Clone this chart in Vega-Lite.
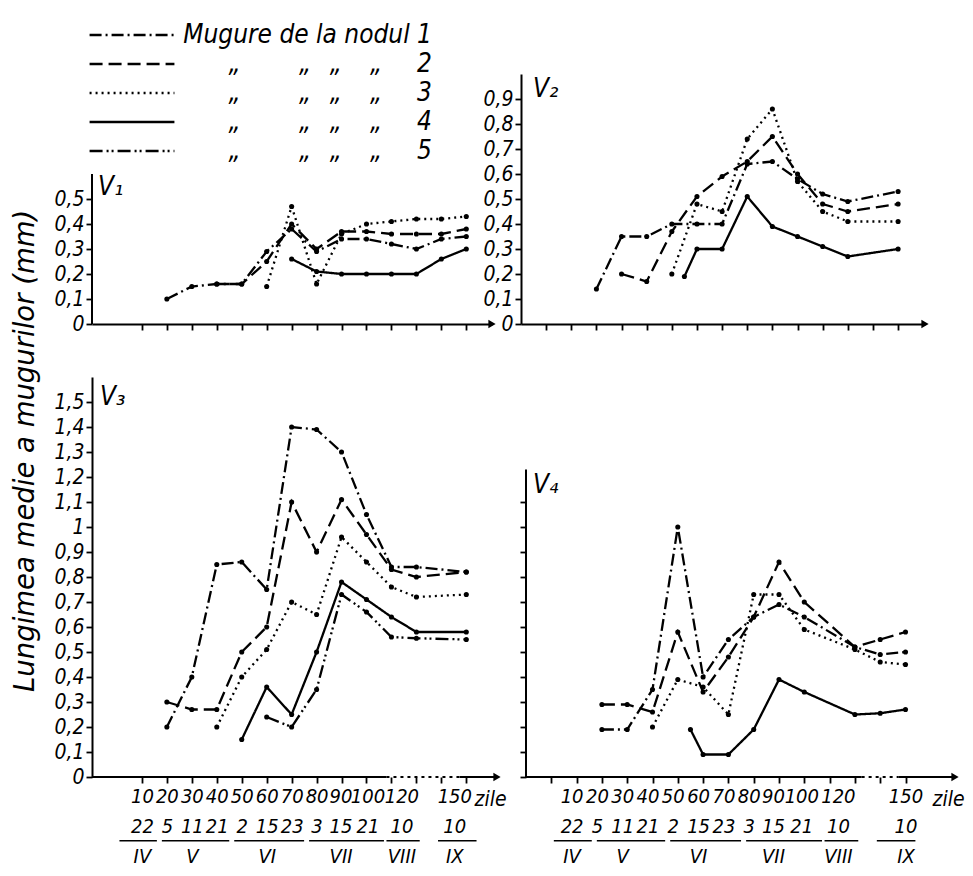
{
  "$schema": "https://vega.github.io/schema/vega-lite/v6.json",
  "background": "white",
  "padding": {"left": 12, "top": 22, "right": 0, "bottom": 0},
  "title": {"text": "Lungimea medie a mugurilor (mm)\u2002\u2060", "orient": "left", "anchor": "middle", "font": "DejaVu Sans", "fontSize": 27.5, "fontStyle": "italic", "fontWeight": "normal", "offset": 14, "color": "black"},
  "datasets": {
    "v1": [
      {"node": "1", "day": 20, "mm": 0.10}, {"node": "1", "day": 30, "mm": 0.15}, {"node": "1", "day": 40, "mm": 0.16}, {"node": "1", "day": 50, "mm": 0.16}, {"node": "1", "day": 60, "mm": 0.29}, {"node": "1", "day": 70, "mm": 0.38}, {"node": "1", "day": 80, "mm": 0.29}, {"node": "1", "day": 90, "mm": 0.34}, {"node": "1", "day": 100, "mm": 0.34}, {"node": "1", "day": 110, "mm": 0.32}, {"node": "1", "day": 120, "mm": 0.30}, {"node": "1", "day": 135, "mm": 0.34}, {"node": "1", "day": 150, "mm": 0.35},
      {"node": "2", "day": 40, "mm": 0.16}, {"node": "2", "day": 50, "mm": 0.16}, {"node": "2", "day": 60, "mm": 0.25}, {"node": "2", "day": 70, "mm": 0.40}, {"node": "2", "day": 80, "mm": 0.30}, {"node": "2", "day": 90, "mm": 0.37}, {"node": "2", "day": 100, "mm": 0.37}, {"node": "2", "day": 110, "mm": 0.36}, {"node": "2", "day": 120, "mm": 0.36}, {"node": "2", "day": 135, "mm": 0.36}, {"node": "2", "day": 150, "mm": 0.38},
      {"node": "3", "day": 60, "mm": 0.15}, {"node": "3", "day": 70, "mm": 0.47}, {"node": "3", "day": 80, "mm": 0.16}, {"node": "3", "day": 90, "mm": 0.36}, {"node": "3", "day": 100, "mm": 0.40}, {"node": "3", "day": 110, "mm": 0.41}, {"node": "3", "day": 120, "mm": 0.42}, {"node": "3", "day": 135, "mm": 0.42}, {"node": "3", "day": 150, "mm": 0.43},
      {"node": "4", "day": 70, "mm": 0.26}, {"node": "4", "day": 80, "mm": 0.21}, {"node": "4", "day": 90, "mm": 0.20}, {"node": "4", "day": 100, "mm": 0.20}, {"node": "4", "day": 110, "mm": 0.20}, {"node": "4", "day": 120, "mm": 0.20}, {"node": "4", "day": 135, "mm": 0.26}, {"node": "4", "day": 150, "mm": 0.30}
    ],
    "v2": [
      {"node": "1", "day": 20, "mm": 0.14}, {"node": "1", "day": 30, "mm": 0.35}, {"node": "1", "day": 40, "mm": 0.35}, {"node": "1", "day": 50, "mm": 0.40}, {"node": "1", "day": 60, "mm": 0.40}, {"node": "1", "day": 70, "mm": 0.40}, {"node": "1", "day": 80, "mm": 0.64}, {"node": "1", "day": 90, "mm": 0.65}, {"node": "1", "day": 100, "mm": 0.58}, {"node": "1", "day": 110, "mm": 0.52}, {"node": "1", "day": 120, "mm": 0.49}, {"node": "1", "day": 150, "mm": 0.53},
      {"node": "2", "day": 30, "mm": 0.20}, {"node": "2", "day": 40, "mm": 0.17}, {"node": "2", "day": 50, "mm": 0.37}, {"node": "2", "day": 60, "mm": 0.51}, {"node": "2", "day": 70, "mm": 0.59}, {"node": "2", "day": 80, "mm": 0.65}, {"node": "2", "day": 90, "mm": 0.75}, {"node": "2", "day": 100, "mm": 0.60}, {"node": "2", "day": 110, "mm": 0.48}, {"node": "2", "day": 120, "mm": 0.45}, {"node": "2", "day": 150, "mm": 0.48},
      {"node": "3", "day": 50, "mm": 0.20}, {"node": "3", "day": 60, "mm": 0.48}, {"node": "3", "day": 70, "mm": 0.45}, {"node": "3", "day": 80, "mm": 0.74}, {"node": "3", "day": 90, "mm": 0.86}, {"node": "3", "day": 100, "mm": 0.57}, {"node": "3", "day": 110, "mm": 0.45}, {"node": "3", "day": 120, "mm": 0.41}, {"node": "3", "day": 150, "mm": 0.41},
      {"node": "4", "day": 55, "mm": 0.19}, {"node": "4", "day": 60, "mm": 0.30}, {"node": "4", "day": 70, "mm": 0.30}, {"node": "4", "day": 80, "mm": 0.51}, {"node": "4", "day": 90, "mm": 0.39}, {"node": "4", "day": 100, "mm": 0.35}, {"node": "4", "day": 110, "mm": 0.31}, {"node": "4", "day": 120, "mm": 0.27}, {"node": "4", "day": 150, "mm": 0.30}
    ],
    "v3": [
      {"node": "1", "day": 20, "mm": 0.20}, {"node": "1", "day": 30, "mm": 0.40}, {"node": "1", "day": 40, "mm": 0.85}, {"node": "1", "day": 50, "mm": 0.86}, {"node": "1", "day": 60, "mm": 0.75}, {"node": "1", "day": 70, "mm": 1.40}, {"node": "1", "day": 80, "mm": 1.39}, {"node": "1", "day": 90, "mm": 1.30}, {"node": "1", "day": 100, "mm": 1.05}, {"node": "1", "day": 110, "mm": 0.84}, {"node": "1", "day": 120, "mm": 0.84}, {"node": "1", "day": 150, "mm": 0.82},
      {"node": "2", "day": 20, "mm": 0.30}, {"node": "2", "day": 30, "mm": 0.27}, {"node": "2", "day": 40, "mm": 0.27}, {"node": "2", "day": 50, "mm": 0.50}, {"node": "2", "day": 60, "mm": 0.60}, {"node": "2", "day": 70, "mm": 1.10}, {"node": "2", "day": 80, "mm": 0.90}, {"node": "2", "day": 90, "mm": 1.11}, {"node": "2", "day": 100, "mm": 0.97}, {"node": "2", "day": 110, "mm": 0.83}, {"node": "2", "day": 120, "mm": 0.80}, {"node": "2", "day": 150, "mm": 0.82},
      {"node": "3", "day": 40, "mm": 0.20}, {"node": "3", "day": 50, "mm": 0.40}, {"node": "3", "day": 60, "mm": 0.51}, {"node": "3", "day": 70, "mm": 0.70}, {"node": "3", "day": 80, "mm": 0.65}, {"node": "3", "day": 90, "mm": 0.96}, {"node": "3", "day": 100, "mm": 0.86}, {"node": "3", "day": 110, "mm": 0.76}, {"node": "3", "day": 120, "mm": 0.72}, {"node": "3", "day": 150, "mm": 0.73},
      {"node": "4", "day": 50, "mm": 0.15}, {"node": "4", "day": 60, "mm": 0.36}, {"node": "4", "day": 70, "mm": 0.25}, {"node": "4", "day": 80, "mm": 0.50}, {"node": "4", "day": 90, "mm": 0.78}, {"node": "4", "day": 100, "mm": 0.71}, {"node": "4", "day": 110, "mm": 0.64}, {"node": "4", "day": 120, "mm": 0.58}, {"node": "4", "day": 150, "mm": 0.58},
      {"node": "5", "day": 60, "mm": 0.24}, {"node": "5", "day": 70, "mm": 0.20}, {"node": "5", "day": 80, "mm": 0.35}, {"node": "5", "day": 90, "mm": 0.73}, {"node": "5", "day": 100, "mm": 0.66}, {"node": "5", "day": 110, "mm": 0.56}, {"node": "5", "day": 120, "mm": 0.555}, {"node": "5", "day": 150, "mm": 0.55}
    ],
    "v4": [
      {"node": "1", "day": 20, "mm": 0.19}, {"node": "1", "day": 30, "mm": 0.19}, {"node": "1", "day": 40, "mm": 0.35}, {"node": "1", "day": 50, "mm": 1.00}, {"node": "1", "day": 60, "mm": 0.40}, {"node": "1", "day": 70, "mm": 0.55}, {"node": "1", "day": 80, "mm": 0.64}, {"node": "1", "day": 90, "mm": 0.69}, {"node": "1", "day": 100, "mm": 0.64}, {"node": "1", "day": 120, "mm": 0.52}, {"node": "1", "day": 135, "mm": 0.49}, {"node": "1", "day": 150, "mm": 0.50},
      {"node": "2", "day": 20, "mm": 0.29}, {"node": "2", "day": 30, "mm": 0.29}, {"node": "2", "day": 40, "mm": 0.26}, {"node": "2", "day": 50, "mm": 0.58}, {"node": "2", "day": 60, "mm": 0.34}, {"node": "2", "day": 70, "mm": 0.48}, {"node": "2", "day": 80, "mm": 0.64}, {"node": "2", "day": 90, "mm": 0.86}, {"node": "2", "day": 100, "mm": 0.70}, {"node": "2", "day": 120, "mm": 0.52}, {"node": "2", "day": 135, "mm": 0.55}, {"node": "2", "day": 150, "mm": 0.58},
      {"node": "3", "day": 40, "mm": 0.20}, {"node": "3", "day": 50, "mm": 0.39}, {"node": "3", "day": 60, "mm": 0.36}, {"node": "3", "day": 70, "mm": 0.25}, {"node": "3", "day": 80, "mm": 0.73}, {"node": "3", "day": 90, "mm": 0.73}, {"node": "3", "day": 100, "mm": 0.59}, {"node": "3", "day": 120, "mm": 0.51}, {"node": "3", "day": 135, "mm": 0.46}, {"node": "3", "day": 150, "mm": 0.45},
      {"node": "4", "day": 55, "mm": 0.19}, {"node": "4", "day": 60, "mm": 0.09}, {"node": "4", "day": 70, "mm": 0.09}, {"node": "4", "day": 80, "mm": 0.19}, {"node": "4", "day": 90, "mm": 0.39}, {"node": "4", "day": 100, "mm": 0.34}, {"node": "4", "day": 120, "mm": 0.25}, {"node": "4", "day": 135, "mm": 0.255}, {"node": "4", "day": 150, "mm": 0.27}
    ],
    "months": [
      {"month": "IV", "from": 1, "to": 16},
      {"month": "V", "from": 18, "to": 45},
      {"month": "VI", "from": 47, "to": 75},
      {"month": "VII", "from": 77, "to": 107},
      {"month": "VIII", "from": 108, "to": 122},
      {"month": "IX", "from": 133, "to": 156}
    ],
    "one": [{}]
  },
  "spacing": 43,
  "vconcat": [
    {
      "bounds": "flush",
      "spacing": 29,
      "hconcat": [
        {
          "width": 400, "height": 250,
          "layer": [
            {
              "data": {"name": "v1"},
              "mark": {"type": "line", "color": "black", "strokeWidth": 2.3},
              "encoding": {
                "x": {"field": "day", "type": "quantitative", "scale": {"type": "linear", "domain": [-10, 120, 150, 165], "range": [0, 324.4, 374.3, 400], "nice": false, "zero": false},
                      "axis": {"values": [10, 20, 30, 40, 50, 60, 70, 80, 90, 100, 110, 120, 135, 150], "tickCount": 100, "labels": false, "title": null, "labelOverlap": false}},
                "y": {"field": "mm", "type": "quantitative", "scale": {"domain": [0, 1.0], "nice": false},
                      "axis": {"values": [0, 0.1, 0.2, 0.3, 0.4, 0.5], "tickCount": 100, "domain": false, "title": null, "labelOverlap": false, "labelExpr": "replace(format(datum.value, '~g'), '.', ',')"}},
                "strokeDash": {"field": "node", "type": "nominal",
                  "scale": {"domain": ["1", "2", "3", "4", "5"], "range": [[12, 4, 2, 4], [13, 6], [2, 4], [1, 0], [13, 4, 2, 3, 2, 4]]},
                  "legend": {"orient": "none", "legendX": 27, "legendY": -52, "title": null, "padding": 0,
                    "symbolType": "M-4,0H4", "symbolSize": 450, "symbolStrokeWidth": 2.3, "symbolStrokeColor": "black", "symbolFillColor": "transparent",
                    "labelFont": "DejaVu Sans Condensed, Liberation Sans Narrow, Liberation Sans, sans-serif", "labelFontSize": 26, "labelFontStyle": "italic", "labelColor": "black",
                    "labelAlign": "right", "labelOffset": 287, "labelLimit": 600, "rowPadding": 3,
                    "labelExpr": "datum.label == '1' ? 'Mugure de la nodul 1' : '\u201e\u2003\u2003\u2009\u2009\u200a\u201e\u2002\u2009\u200a\u201e\u2003\u2009\u201e\u2003\u2009\u2009\u200a' + datum.label"}}
              }
            },
            {
              "data": {"name": "v1"},
              "mark": {"type": "point", "filled": true, "size": 26, "color": "black", "opacity": 1},
              "encoding": {"x": {"field": "day", "type": "quantitative"}, "y": {"field": "mm", "type": "quantitative"}}
            },
            {
              "data": {"name": "one"},
              "mark": {"type": "rule", "color": "black", "strokeWidth": 2},
              "encoding": {"x": {"datum": -10}, "y": {"datum": 0}, "y2": {"datum": 0.6}}
            },
            {
              "data": {"name": "one"},
              "mark": {"type": "point", "shape": "triangle-right", "filled": true, "size": 70, "color": "black", "opacity": 1},
              "encoding": {"x": {"datum": 165}, "y": {"datum": 0}}
            },
            {
              "data": {"name": "one"},
              "mark": {"type": "text", "align": "left", "baseline": "middle", "fontSize": 26, "fontStyle": "italic", "fontWeight": "normal", "color": "black"},
              "encoding": {"x": {"datum": -7.6}, "y": {"datum": 0.55}, "text": {"value": "V\u2081"}}
            }
          ]
        },
        {
          "width": 404, "height": 250,
          "layer": [
            {
              "data": {"name": "v2"},
              "mark": {"type": "line", "color": "black", "strokeWidth": 2.3},
              "encoding": {
                "x": {"field": "day", "type": "quantitative", "scale": {"type": "linear", "domain": [-10, 120, 150, 165], "range": [0, 326.8, 377.1, 404], "nice": false, "zero": false},
                      "axis": {"values": [0, 10, 20, 30, 40, 50, 60, 70, 80, 90, 100, 110, 120, 135, 150], "tickCount": 100, "labels": false, "title": null, "labelOverlap": false}},
                "y": {"field": "mm", "type": "quantitative", "scale": {"domain": [0, 1.0], "nice": false},
                      "axis": {"values": [0, 0.1, 0.2, 0.3, 0.4, 0.5, 0.6, 0.7, 0.8, 0.9], "tickCount": 100, "title": null, "labelOverlap": false, "labelExpr": "replace(format(datum.value, '~g'), '.', ',')"}},
                "strokeDash": {"field": "node", "type": "nominal"}
              }
            },
            {
              "data": {"name": "v2"},
              "mark": {"type": "point", "filled": true, "size": 26, "color": "black", "opacity": 1},
              "encoding": {"x": {"field": "day", "type": "quantitative"}, "y": {"field": "mm", "type": "quantitative"}}
            },
            {
              "data": {"name": "one"},
              "mark": {"type": "point", "shape": "triangle-right", "filled": true, "size": 70, "color": "black", "opacity": 1},
              "encoding": {"x": {"datum": 165}, "y": {"datum": 0}}
            },
            {
              "data": {"name": "one"},
              "mark": {"type": "text", "align": "left", "baseline": "middle", "fontSize": 26, "fontStyle": "italic", "fontWeight": "normal", "color": "black"},
              "encoding": {"x": {"datum": -5.2}, "y": {"datum": 0.94}, "text": {"value": "V\u2082"}}
            }
          ]
        }
      ]
    },
    {
      "bounds": "flush",
      "spacing": 29,
      "hconcat": [
        {
          "width": 405, "height": 400,
          "layer": [
            {
              "data": {"name": "v3"},
              "mark": {"type": "line", "color": "black", "strokeWidth": 2.3},
              "encoding": {
                "x": {"field": "day", "type": "quantitative", "scale": {"type": "linear", "domain": [-10, 120, 150, 168], "range": [0, 324.4, 374.3, 405], "nice": false, "zero": false},
                      "axis": {"values": [10, 20, 30, 40, 50, 60, 70, 80, 90, 100, 110, 120, 135, 150], "tickCount": 100, "labelOverlap": false, "domain": false,
                        "labelExpr": "datum.value==10?['10','22','IV']:datum.value==20?['20','5']:datum.value==30?['30','11','V']:datum.value==40?['40','21']:datum.value==50?['50','2']:datum.value==60?['60','15','VI']:datum.value==70?['70','23']:datum.value==80?['80','3']:datum.value==90?['90','15','VII']:datum.value==100?['100','21']:datum.value==120?['120','10','VIII']:datum.value==150?['150','10','IX']:''",
                        "labelLineHeight": 30, "labelBaseline": "top", "labelPadding": 3, "labelFontSize": 20,
                        "labelOffset": {"condition": [{"test": "datum.value == 120", "value": -15}, {"test": "datum.value == 150", "value": -12}, {"test": "datum.value == 90", "value": -1}, {"test": "datum.value == 100", "value": 1}], "value": 0},
                        "title": "zile", "titleX": 398, "titleY": 22, "titleAlign": "center", "titleBaseline": "middle"}},
                "y": {"field": "mm", "type": "quantitative", "scale": {"domain": [0, 1.6], "nice": false},
                      "axis": {"values": [0, 0.1, 0.2, 0.3, 0.4, 0.5, 0.6, 0.7, 0.8, 0.9, 1, 1.1, 1.2, 1.3, 1.4, 1.5], "tickCount": 100, "title": null, "labelOverlap": false, "labelExpr": "replace(format(datum.value, '~g'), '.', ',')"}},
                "strokeDash": {"field": "node", "type": "nominal"}
              }
            },
            {
              "data": {"name": "v3"},
              "mark": {"type": "point", "filled": true, "size": 26, "color": "black", "opacity": 1},
              "encoding": {"x": {"field": "day", "type": "quantitative"}, "y": {"field": "mm", "type": "quantitative"}}
            },
            {
              "data": {"name": "one"},
              "mark": {"type": "rule", "color": "black", "strokeWidth": 2},
              "encoding": {"x": {"datum": -10}, "x2": {"datum": 108}, "y": {"datum": 0}}
            },
            {
              "data": {"name": "one"},
              "mark": {"type": "rule", "color": "black", "strokeWidth": 2, "strokeDash": [3, 4]},
              "encoding": {"x": {"datum": 108}, "x2": {"datum": 146}, "y": {"datum": 0}}
            },
            {
              "data": {"name": "one"},
              "mark": {"type": "rule", "color": "black", "strokeWidth": 2},
              "encoding": {"x": {"datum": 146}, "x2": {"datum": 168}, "y": {"datum": 0}}
            },
            {
              "data": {"name": "one"},
              "mark": {"type": "point", "shape": "triangle-right", "filled": true, "size": 70, "color": "black", "opacity": 1},
              "encoding": {"x": {"datum": 168}, "y": {"datum": 0}}
            },
            {
              "data": {"name": "months"},
              "mark": {"type": "rule", "color": "black", "strokeWidth": 1.5},
              "encoding": {"x": {"field": "from", "type": "quantitative"}, "x2": {"field": "to"}, "y": {"datum": -0.255}}
            },
            {
              "data": {"name": "one"},
              "mark": {"type": "text", "align": "left", "baseline": "middle", "fontSize": 26, "fontStyle": "italic", "fontWeight": "normal", "color": "black"},
              "encoding": {"x": {"datum": -6.8}, "y": {"datum": 1.52}, "text": {"value": "V\u2083"}}
            }
          ]
        },
        {
          "width": 429, "height": 400,
          "layer": [
            {
              "data": {"name": "v4"},
              "mark": {"type": "line", "color": "black", "strokeWidth": 2.3},
              "encoding": {
                "x": {"field": "day", "type": "quantitative", "scale": {"type": "linear", "domain": [-10, 120, 150, 180], "range": [0, 328.9, 379.5, 429], "nice": false, "zero": false},
                      "axis": {"values": [0, 10, 20, 30, 40, 50, 60, 70, 80, 90, 100, 110, 120, 135, 150], "tickCount": 100, "labelOverlap": false, "domain": false,
                        "labelExpr": "datum.value==10?['10','22','IV']:datum.value==20?['20','5']:datum.value==30?['30','11','V']:datum.value==40?['40','21']:datum.value==50?['50','2']:datum.value==60?['60','15','VI']:datum.value==70?['70','23']:datum.value==80?['80','3']:datum.value==90?['90','15','VII']:datum.value==100?['100','21']:datum.value==120?['120','10','VIII']:datum.value==150?['150','10','IX']:''",
                        "labelLineHeight": 30, "labelBaseline": "top", "labelPadding": 3, "labelFontSize": 20,
                        "labelOffset": {"condition": [{"test": "datum.value == 120", "value": -17}, {"test": "datum.value == 90", "value": -6}, {"test": "datum.value == 100", "value": -3}, {"test": "datum.value <= 80", "value": -5}], "value": 0},
                        "title": "zile", "titleX": 422, "titleY": 22, "titleAlign": "center", "titleBaseline": "middle"}},
                "y": {"field": "mm", "type": "quantitative", "scale": {"domain": [0, 1.6], "nice": false},
                      "axis": {"values": [0, 0.1, 0.2, 0.3, 0.4, 0.5, 0.6, 0.7, 0.8, 0.9, 1, 1.1], "tickCount": 100, "labels": false, "domain": false, "title": null}},
                "strokeDash": {"field": "node", "type": "nominal"}
              }
            },
            {
              "data": {"name": "v4"},
              "mark": {"type": "point", "filled": true, "size": 26, "color": "black", "opacity": 1},
              "encoding": {"x": {"field": "day", "type": "quantitative"}, "y": {"field": "mm", "type": "quantitative"}}
            },
            {
              "data": {"name": "one"},
              "mark": {"type": "rule", "color": "black", "strokeWidth": 2},
              "encoding": {"x": {"datum": -10}, "y": {"datum": 0}, "y2": {"datum": 1.23}}
            },
            {
              "data": {"name": "one"},
              "mark": {"type": "rule", "color": "black", "strokeWidth": 2},
              "encoding": {"x": {"datum": -10}, "x2": {"datum": 124}, "y": {"datum": 0}}
            },
            {
              "data": {"name": "one"},
              "mark": {"type": "rule", "color": "black", "strokeWidth": 2, "strokeDash": [3, 4]},
              "encoding": {"x": {"datum": 124}, "x2": {"datum": 146}, "y": {"datum": 0}}
            },
            {
              "data": {"name": "one"},
              "mark": {"type": "rule", "color": "black", "strokeWidth": 2},
              "encoding": {"x": {"datum": 146}, "x2": {"datum": 180}, "y": {"datum": 0}}
            },
            {
              "data": {"name": "one"},
              "mark": {"type": "point", "shape": "triangle-right", "filled": true, "size": 70, "color": "black", "opacity": 1},
              "encoding": {"x": {"datum": 180}, "y": {"datum": 0}}
            },
            {
              "data": {"name": "months"},
              "mark": {"type": "rule", "color": "black", "strokeWidth": 1.5},
              "encoding": {"x": {"field": "from", "type": "quantitative"}, "x2": {"field": "to"}, "y": {"datum": -0.255}}
            },
            {
              "data": {"name": "one"},
              "mark": {"type": "text", "align": "left", "baseline": "middle", "fontSize": 26, "fontStyle": "italic", "fontWeight": "normal", "color": "black"},
              "encoding": {"x": {"datum": -7.2}, "y": {"datum": 1.17}, "text": {"value": "V\u2084"}}
            }
          ]
        }
      ]
    }
  ],
  "config": {
    "view": {"stroke": null},
    "font": "DejaVu Sans Condensed, Liberation Sans Narrow, Liberation Sans, sans-serif",
    "text": {"font": "DejaVu Sans Condensed, Liberation Sans Narrow, Liberation Sans, sans-serif"},
    "axis": {
      "grid": false, "domainColor": "black", "domainWidth": 2, "tickColor": "black", "tickWidth": 1.8, "tickSize": 6,
      "labelFont": "DejaVu Sans Condensed, Liberation Sans Narrow, Liberation Sans, sans-serif", "labelFontSize": 21, "labelFontStyle": "italic", "labelColor": "black",
      "labelPadding": 2, "labelOverlap": false, "labelFlush": false,
      "titleFont": "DejaVu Sans Condensed, Liberation Sans Narrow, Liberation Sans, sans-serif", "titleFontSize": 21, "titleFontStyle": "italic", "titleFontWeight": "normal", "titleColor": "black"
    }
  }
}
